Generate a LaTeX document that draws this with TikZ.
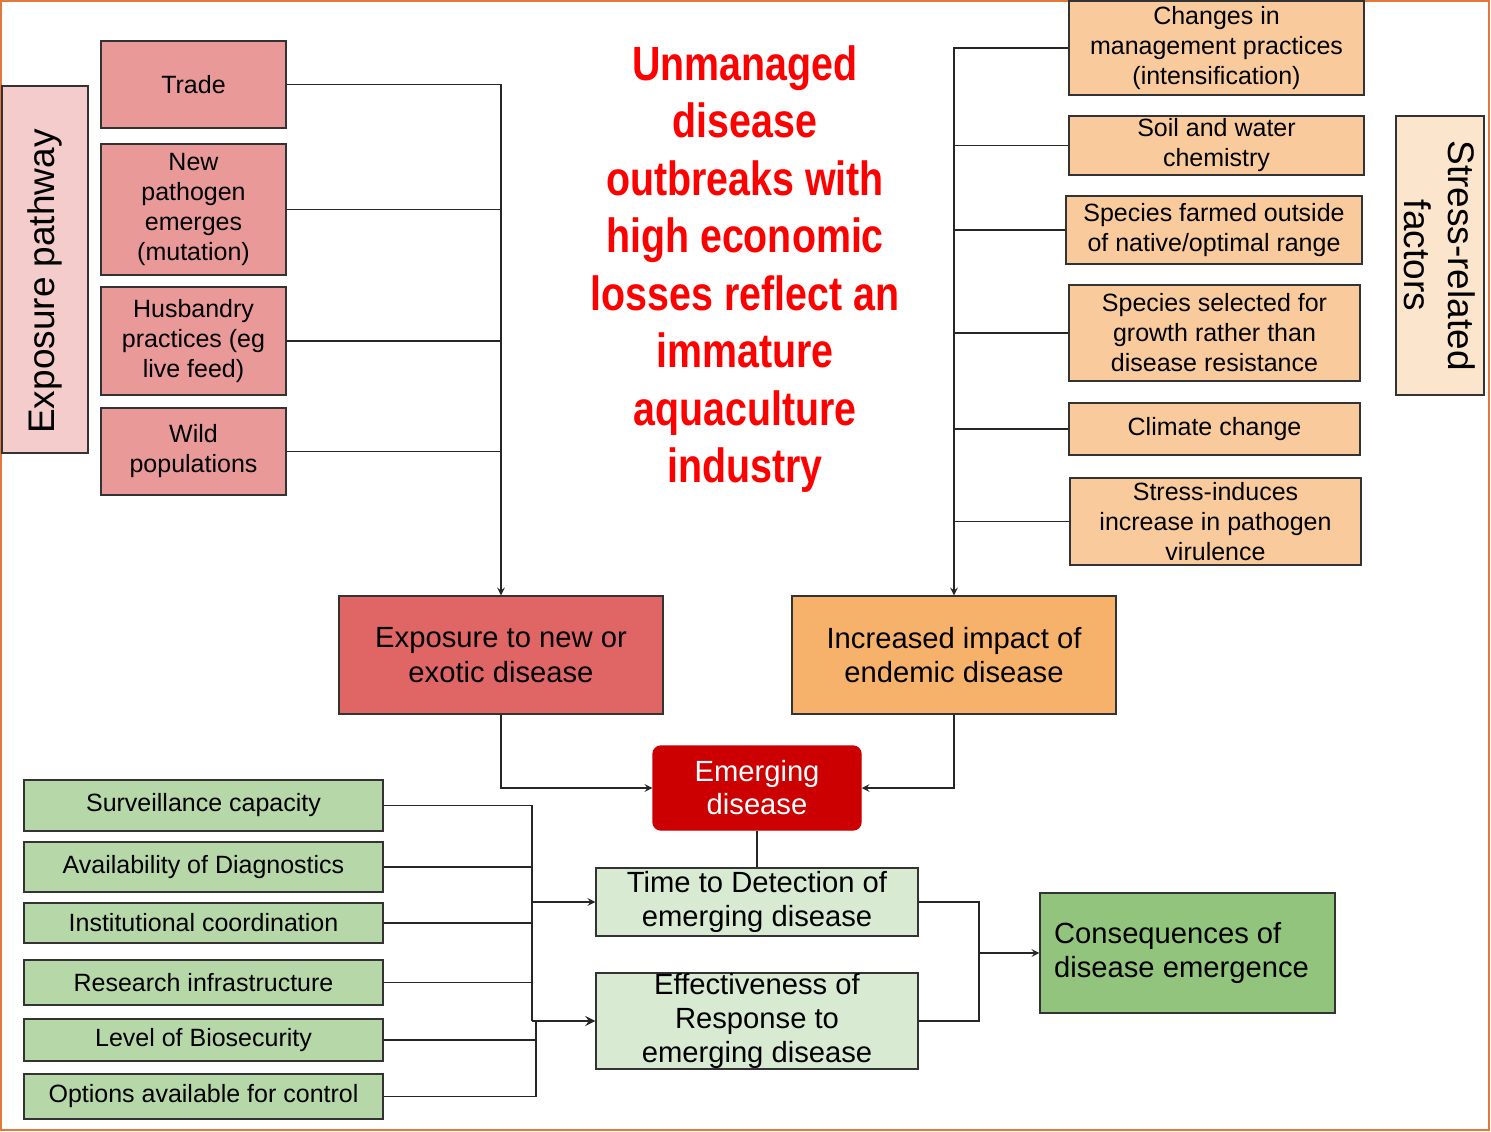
\documentclass[tikz,border=0pt]{standalone}
\usepackage{fontspec}
\setmainfont{Liberation Sans}
\newfontfamily\titlefont[FakeStretch=0.82]{Liberation Sans}
\definecolor{pinklite}{HTML}{F4CCCC}
\definecolor{pinkmid}{HTML}{EA9999}
\definecolor{reddish}{HTML}{E06666}
\definecolor{orangelite}{HTML}{FCE5CD}
\definecolor{orangemid}{HTML}{F9CB9C}
\definecolor{orangedark}{HTML}{F6B26B}
\definecolor{emergred}{HTML}{CC0000}
\definecolor{greenlite}{HTML}{D9EAD3}
\definecolor{greenmid}{HTML}{B6D7A8}
\definecolor{greendark}{HTML}{93C47D}
\definecolor{frameorange}{HTML}{E2793A}
\begin{document}
\begin{tikzpicture}[x=0.5pt,y=-0.5pt,>=stealth,
  box/.style={draw=black!80,line width=0.7pt,align=center,inner sep=0pt,
    font=\fontsize{12.5}{15}\selectfont},
  bigbox/.style={box,font=\fontsize{14.6}{17.2}\selectfont},
  sidebox/.style={box,font=\fontsize{18.5}{22}\selectfont},
  link/.style={line width=0.7pt,draw=black!85}]
  \useasboundingbox (0,0) rectangle (1491,1131);
  \draw[frameorange,line width=1pt] (1,1) rectangle (1489,1130);
  % exposure side
  \node[sidebox,fill=pinklite,rotate=90,minimum width=183.5pt,minimum height=43pt] (exppath) at (45,269.5) {Exposure pathway\hspace*{12pt}};
  \node[box,fill=pinkmid,minimum width=92.5pt,minimum height=43.5pt] (trade) at (193.5,84.5) {Trade};
  \node[box,fill=pinkmid,minimum width=92.5pt,minimum height=65.5pt] (newpath) at (193.5,209.5) {New\\pathogen\\emerges\\(mutation)};
  \node[box,fill=pinkmid,minimum width=92.5pt,minimum height=54pt] (husb) at (193.5,341) {Husbandry\\practices (eg\\live feed)};
  \node[box,fill=pinkmid,minimum width=92.5pt,minimum height=43.5pt] (wild) at (193.5,451.5) {Wild\\populations};
  % stress side
  \node[box,fill=orangemid,minimum width=147.5pt,minimum height=47pt] (mgmt) at (1216.5,48) {Changes in\\management practices\\(intensification)};
  \node[box,fill=orangemid,minimum width=147.5pt,minimum height=29.5pt] (soil) at (1216.5,145.5) {Soil and water\\chemistry};
  \node[box,fill=orangemid,minimum width=148pt,minimum height=34pt] (range) at (1214,230) {Species farmed outside\\of native/optimal range};
  \node[box,fill=orangemid,minimum width=145.5pt,minimum height=48pt] (select) at (1214.5,333) {Species selected for\\growth rather than\\disease resistance};
  \node[box,fill=orangemid,minimum width=145.5pt,minimum height=26pt] (climate) at (1214.5,429) {Climate change};
  \node[box,fill=orangemid,minimum width=145.5pt,minimum height=43.5pt] (virul) at (1215.5,521.5) {Stress-induces\\increase in pathogen\\virulence};
  \node[sidebox,fill=orangelite,rotate=-90,minimum width=139.5pt,minimum height=44pt] (stress) at (1440,255.5) {Stress-related\\factors};
  % title
  \node[align=center,text=red,font=\titlefont\bfseries\fontsize{24}{28.75}\selectfont] (title) at (745,269)
    {Unmanaged\\disease\\outbreaks with\\high economic\\losses reflect an\\immature\\aquaculture\\industry};
  % middle
  \node[bigbox,fill=reddish,minimum width=162pt,minimum height=59pt] (exotic) at (501,655) {Exposure to new or\\exotic disease};
  \node[bigbox,fill=orangedark,minimum width=162pt,minimum height=59pt] (endemic) at (954,655) {Increased impact of\\endemic disease};
  \node[bigbox,fill=emergred,draw=emergred,text=white,rounded corners=4pt,minimum width=104pt,minimum height=42pt,
    font=\fontsize{14.6}{16.5}\selectfont] (emerging) at (757,788) {Emerging\\disease};
  \node[bigbox,fill=greenlite,minimum width=161pt,minimum height=34pt] (detect) at (757,902) {Time to Detection of\\emerging disease};
  \node[bigbox,fill=greenlite,minimum width=161pt,minimum height=47pt] (response) at (757,1021) {Effectiveness of\\Response to\\emerging disease};
  \node[bigbox,fill=greendark,align=left,minimum width=147.5pt,minimum height=60pt] (conseq) at (1187.5,953) {Consequences of\\disease emergence\hspace*{6pt}};
  % capacity boxes
  \node[box,fill=greenmid,minimum width=179.5pt,minimum height=25.5pt] (surv) at (203.5,805.5) {Surveillance capacity};
  \node[box,fill=greenmid,minimum width=179.5pt,minimum height=25pt] (diag) at (203.5,867) {Availability of Diagnostics};
  \node[box,fill=greenmid,minimum width=179.5pt,minimum height=20pt] (inst) at (203.5,923) {Institutional coordination};
  \node[box,fill=greenmid,minimum width=179.5pt,minimum height=22.5pt] (res) at (203.5,982.5) {Research infrastructure};
  \node[box,fill=greenmid,minimum width=179.5pt,minimum height=21pt] (bio) at (203.5,1040) {Level of Biosecurity};
  \node[box,fill=greenmid,minimum width=179.5pt,minimum height=22.5pt] (ctrl) at (203.5,1096.5) {Options available for control};
  \coordinate (gbus) at (532,0);
  \coordinate (hbus) at (536,0);
  \coordinate (cbus) at (979,0);
  % connectors
  \draw[link,->] (trade.east) -| (exotic.north);
  \draw[link] (newpath.east) -- (newpath.east -| exotic.north);
  \draw[link] (husb.east) -- (husb.east -| exotic.north);
  \draw[link] (wild.east) -- (wild.east -| exotic.north);
  \draw[link,->] (mgmt.west) -| (endemic.north);
  \draw[link] (soil.west) -- (soil.west -| endemic.north);
  \draw[link] (range.west) -- (range.west -| endemic.north);
  \draw[link] (select.west) -- (select.west -| endemic.north);
  \draw[link] (climate.west) -- (climate.west -| endemic.north);
  \draw[link] (virul.west) -- (virul.west -| endemic.north);
  \draw[link,->] (exotic.south) |- (emerging.west);
  \draw[link,->] (endemic.south) |- (emerging.east);
  \draw[link] (emerging.south) -- (detect.north);
  \draw[link] (surv.east) -| (gbus |- response.west);
  \draw[link] (diag.east) -- (diag.east -| gbus);
  \draw[link] (inst.east) -- (inst.east -| gbus);
  \draw[link] (res.east) -- (res.east -| gbus);
  \draw[link,->] (gbus |- detect.west) -- (detect.west);
  \draw[link] (ctrl.east) -| (hbus |- response.west);
  \draw[link] (bio.east) -- (bio.east -| hbus);
  \draw[link,->,line width=1.2pt] (gbus |- response.west) -- (response.west);
  \draw[link] (detect.east) -| (cbus |- response.east) -- (response.east);
  \draw[link,->] (cbus |- conseq.west) -- (conseq.west);
\end{tikzpicture}
\end{document}
